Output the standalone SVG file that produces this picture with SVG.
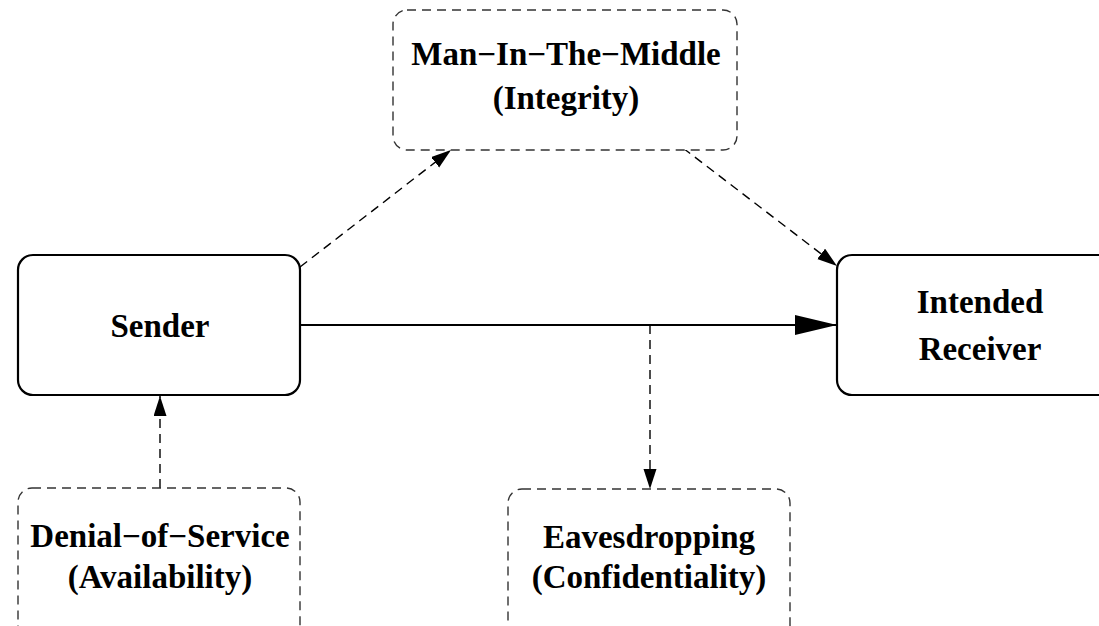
<svg xmlns="http://www.w3.org/2000/svg" width="1099" height="626" viewBox="0 0 1099 626">
<style>
.solid{fill:#fff;stroke:#000;stroke-width:2.2}
.dash{fill:#fff;stroke:#333;stroke-width:1.4;stroke-dasharray:9 6}
.lbl{font-family:"Liberation Serif","Times New Roman",serif;font-weight:bold;font-size:33px;fill:#000;text-anchor:middle}
.c{fill:none;stroke:#000;stroke-width:1.4;stroke-dasharray:9 6}
.s{fill:none;stroke:#000;stroke-width:2.2}
</style>
<defs>
<marker id="big" markerUnits="userSpaceOnUse" markerWidth="44" markerHeight="22" refX="42" refY="10" orient="auto">
<path d="M0,0 L42,10 L0,20 Z" fill="#000"/>
</marker>
<marker id="sm" markerUnits="userSpaceOnUse" markerWidth="22" markerHeight="14" refX="20" refY="6.5" orient="auto">
<path d="M0,0 L20,6.5 L0,13 Z" fill="#000"/>
</marker>
</defs>
<rect width="1099" height="626" fill="#fff"/>
<g id="connectors">
<line class="s" x1="300" y1="325" x2="837" y2="325" marker-end="url(#big)"/>
<line class="c" x1="650" y1="325" x2="650" y2="489" marker-end="url(#sm)"/>
<line class="c" x1="160" y1="488" x2="160" y2="396" marker-end="url(#sm)"/>
<line class="c" x1="300" y1="267" x2="451" y2="150" marker-end="url(#sm)"/>
<line class="c" x1="683" y1="148" x2="837" y2="266" marker-end="url(#sm)"/>
</g>
<g id="mitm">
<rect class="dash" x="393" y="10" width="344" height="140" rx="14"/>
<text class="lbl" x="566" y="65">Man−In−The−Middle</text>
<text class="lbl" x="566" y="109">(Integrity)</text>
</g>
<g id="sender">
<rect class="solid" x="18" y="255" width="282" height="140" rx="15"/>
<text class="lbl" x="160" y="337">Sender</text>
</g>
<g id="receiver">
<rect class="solid" x="837" y="255" width="290" height="140" rx="15"/>
<text class="lbl" x="980" y="313">Intended</text>
<text class="lbl" x="980" y="360">Receiver</text>
</g>
<g id="dos">
<rect class="dash" x="18" y="488" width="282" height="160" rx="14"/>
<text class="lbl" x="160" y="547">Denial−of−Service</text>
<text class="lbl" x="160" y="588">(Availability)</text>
</g>
<g id="eaves">
<rect class="dash" x="508" y="489" width="282" height="160" rx="14"/>
<text class="lbl" x="649" y="548">Eavesdropping</text>
<text class="lbl" x="649" y="588">(Confidentiality)</text>
</g>
</svg>
